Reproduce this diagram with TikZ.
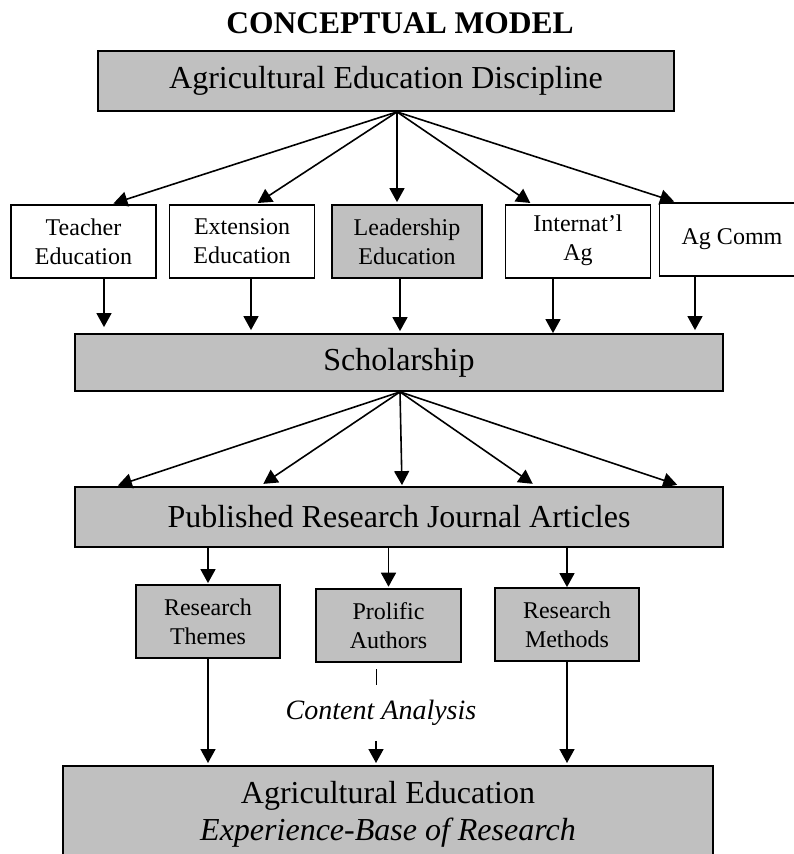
\documentclass[tikz,border=0pt]{standalone}
\usepackage{fontspec}
\setmainfont{Liberation Serif}
\usepackage{xcolor}
\usetikzlibrary{arrows.meta, positioning}
\definecolor{boxgray}{HTML}{C0C0C0}

\begin{document}
\begin{tikzpicture}[x=1pt, y=-1pt,
    bigbox/.style={draw, line width=1.8pt, fill=boxgray, minimum width=648pt, minimum height=60pt, inner sep=0pt, align=center, font=\fontsize{32}{37}\selectfont},
    smallbox/.style={draw, line width=1.8pt, minimum width=145pt, minimum height=73pt, inner sep=0pt, align=center, font=\fontsize{24}{29}\selectfont},
    arr/.style={line width=1.6pt, -{Triangle[length=14pt, width=15pt]}}]
    \useasboundingbox (0,0) rectangle (794,854);

    % Title
    \node[font=\bfseries\fontsize{31.5}{36}\selectfont, anchor=base] (title) at (400,33) {CONCEPTUAL MODEL};

    % Discipline and its five areas
    \node[bigbox, minimum width=576pt] (disc) at (386,81) {Agricultural Education Discipline};
    \coordinate (dfork) at ([xshift=11pt]disc.south);

    \node[smallbox] (teach) at (83.5,241.5) {Teacher\\Education};
    \node[smallbox] (ext) at (242,241.5) {Extension\\Education};
    \node[smallbox, fill=boxgray, minimum width=150pt] (lead) at (407,241.5) {Leadership\\Education};
    \node[smallbox, text depth=8pt] (intl) at (578,241.5) {Internat’l\\Ag};
    \node[smallbox] (comm) at (732,239.5) {Ag Comm};

    \draw[arr, shorten >=2pt] (dfork) -- ([xshift=28pt]teach.north);
    \draw[arr, shorten >=2pt] (dfork) -- ([xshift=14pt]ext.north);
    \draw[arr, shorten >=2pt] (dfork) -- (dfork |- lead.north);
    \draw[arr, shorten >=2pt] (dfork) -- ([xshift=-46pt]intl.north);
    \draw[arr, shorten >=2pt] (dfork) -- ([xshift=-56pt]comm.north);

    % Scholarship
    \node[bigbox, minimum height=57pt] (schol) at (399,362.5) {Scholarship};
    \coordinate (sfork) at ([xshift=1pt]schol.south);

    \draw[arr, shorten >=6pt] (teach.south) ++(20.5,0) coordinate (t1) -- (t1 |- schol.north);
    \draw[arr, shorten >=3pt] (ext.south) ++(9,0) coordinate (t2) -- (t2 |- schol.north);
    \draw[arr, shorten >=2pt] (lead.south) ++(-7,0) coordinate (t3) -- (t3 |- schol.north);
    \draw[arr] (intl.south) ++(-25,0) coordinate (t4) -- (t4 |- schol.north);
    \draw[arr, shorten >=3pt] (comm.south) ++(-37,0) coordinate (t5) -- (t5 |- schol.north);

    % Published articles
    \node[bigbox] (pub) at (399,517) {Published Research Journal Articles};

    \draw[arr, shorten >=2pt] (sfork) -- ([xshift=-283pt]pub.north);
    \draw[arr, shorten >=4pt] (sfork) -- ([xshift=-139pt]pub.north);
    \draw[arr, shorten >=1pt] (sfork) -- ([xshift=3pt]pub.north);
    \draw[arr, shorten >=4pt] (sfork) -- ([xshift=137pt]pub.north);
    \draw[arr, shorten >=4pt] (sfork) -- ([xshift=282pt]pub.north);

    % What the articles give
    \node[smallbox, fill=boxgray, minimum width=144pt] (themes) at (208,621.5) {Research\\Themes};
    \node[smallbox, fill=boxgray, line width=2.6pt] (prol) at (388.5,625.5) {Prolific\\Authors};
    \node[smallbox, fill=boxgray, minimum width=144pt] (meth) at (567,624.5) {Research\\Methods};

    \draw[arr, shorten >=1pt] (pub.south -| themes.north) -- (themes.north);
    \draw[arr, shorten >=1pt] (pub.south -| prol.north) -- (prol.north);
    \draw[arr] (pub.south -| meth.north) -- (meth.north);

    % Experience base
    \node[bigbox, anchor=north, minimum width=650pt, minimum height=97pt] (base) at (388,765) {Agricultural Education\\\textit{Experience-Base of Research}};
    \node[inner sep=0pt, font=\itshape\fontsize{28}{32}\selectfont] (cana) at (381,713) {Content Analysis};

    \draw[line width=1pt] (prol.south) ++(-12.5,6) -- ++(0,16);
    \draw[arr, shorten >=2pt] (cana.south) ++(-5,15) coordinate (c1) -- (c1 |- base.north);
    \draw[arr, shorten >=2pt] (themes.south) -- (themes.south |- base.north);
    \draw[arr, shorten >=2pt] (meth.south) -- (meth.south |- base.north);
\end{tikzpicture}
\end{document}
